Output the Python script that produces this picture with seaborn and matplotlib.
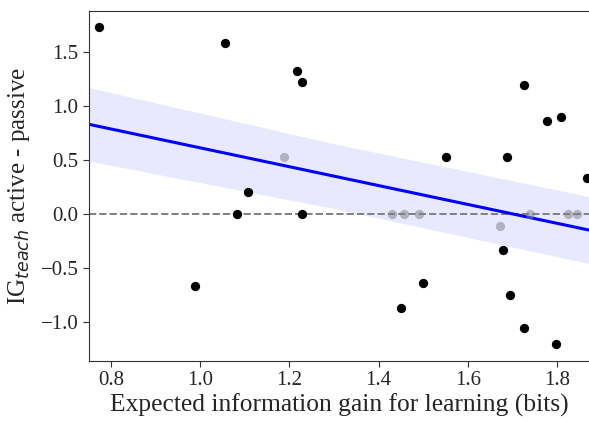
import numpy as np
import pandas as pd
import matplotlib
matplotlib.use("Agg")
import matplotlib.pyplot as plt
import seaborn as sns

# expected information gain (x) and IG_teach difference (y)
black_x = [0.773, 1.056, 1.216, 1.227, 1.107, 1.083, 1.229, 0.989, 1.726, 1.777,
           1.809, 1.552, 1.688, 1.867, 1.679, 1.499, 1.451, 1.694, 1.726, 1.799]
black_y = [1.73, 1.58, 1.32, 1.22, 0.20, 0.0, 0.0, -0.67, 1.19, 0.86,
           0.90, 0.53, 0.53, 0.33, -0.335, -0.64, -0.87, -0.75, -1.05, -1.20]

grey_x = [1.187, 1.430, 1.456, 1.491, 1.740, 1.824, 1.846, 1.672]
grey_y = [0.53, 0.0, 0.0, 0.0, 0.0, 0.0, 0.0, -0.11]

# half-width of the shaded band around the fit
band_x = [0.75, 1.30, 1.872]
band_half = [0.34, 0.30, 0.31]

df = pd.DataFrame({
    "x": black_x + grey_x,
    "y": black_y + grey_y,
    "group": ["black"] * len(black_x) + ["grey"] * len(grey_x),
})

sns.set_style("ticks")
plt.rcParams["font.family"] = ["Liberation Serif", "DejaVu Serif"]

fig = plt.figure(figsize=(5.89, 4.21), dpi=100)
ax = fig.add_axes([0.151, 0.1425, 0.849, 0.8315])
ax.set_xlim(0.75, 1.872)
ax.set_ylim(-1.36, 1.88)

# regression over all points, extended to the axes edges
sns.regplot(data=df, x="x", y="y", scatter=False, truncate=False, ci=None, ax=ax,
            color="blue", line_kws={"lw": 2.2})

# shaded band around the fitted line
slope, icept = np.polyfit(df.x, df.y, 1)
xs = np.linspace(0.75, 1.872, 100)
fit = slope * xs + icept
half = np.interp(xs, band_x, band_half)
ax.fill_between(xs, fit - half, fit + half, color="blue", alpha=0.09, linewidth=0, zorder=0)

ax.axhline(0, ls="--", color="gray", lw=1.4, zorder=1)

g = df[df.group == "grey"]
b = df[df.group == "black"]
ax.scatter(g.x, g.y, s=45, color="gray", alpha=0.5, linewidth=0, zorder=3)
ax.scatter(b.x, b.y, s=45, color="black", linewidth=0, zorder=4)

ax.set_xticks([0.8, 1.0, 1.2, 1.4, 1.6, 1.8])
ax.set_yticks([-1.0, -0.5, 0.0, 0.5, 1.0, 1.5])
ax.tick_params(labelsize=15, length=4, width=0.8, color="0.2")
ax.set_xlabel("Expected information gain for learning (bits)", fontsize=18.4, labelpad=2)
ax.set_ylabel("IG$_{teach}$ active - passive", fontsize=18, labelpad=6)

for side in ["left", "bottom", "top"]:
    ax.spines[side].set_color("0.2")
    ax.spines[side].set_linewidth(0.8)
ax.spines["right"].set_visible(False)

fig.savefig("out.png", dpi=100)
